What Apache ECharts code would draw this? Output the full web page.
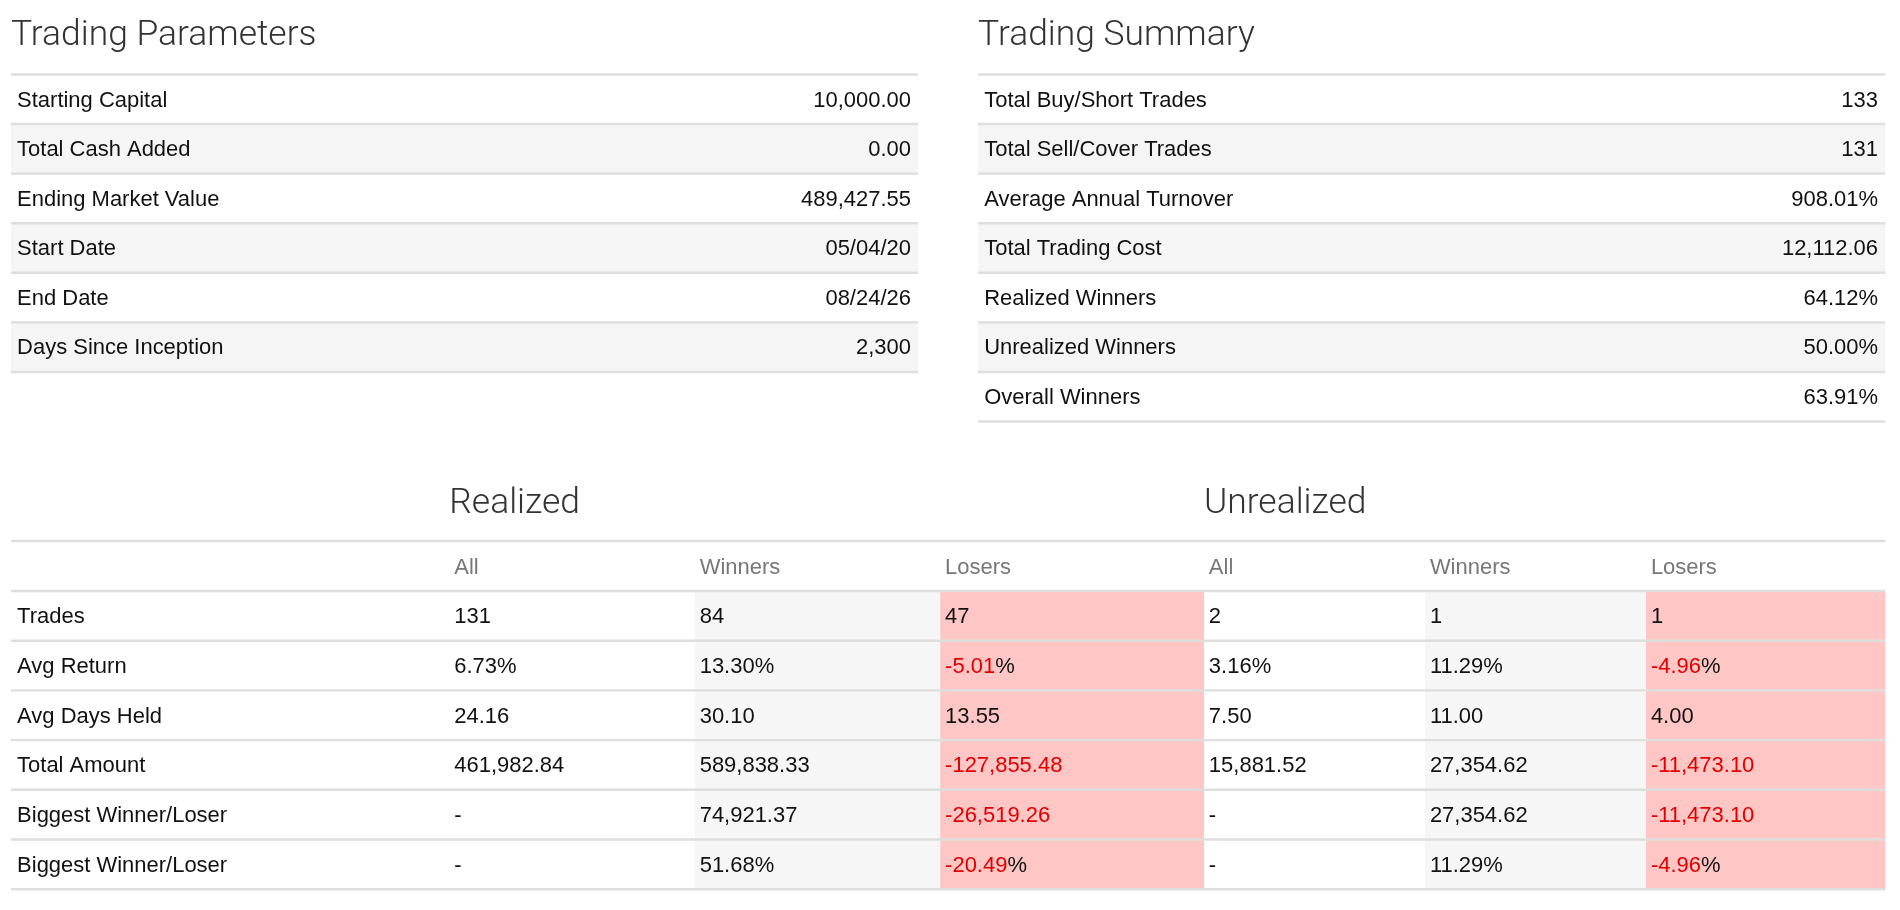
<!DOCTYPE html>
<html><head><meta charset="utf-8">
<script src="https://cdn.jsdelivr.net/npm/echarts@6/dist/echarts.min.js"></script>
<style>html,body{margin:0;padding:0;background:#fff}#c{width:1900px;height:910px}</style>
</head><body><div id="c"></div>
<script>
const paramLabels = ["Starting Capital","Total Cash Added","Ending Market Value","Start Date","End Date","Days Since Inception"];
const paramValues = ["10,000.00","0.00","489,427.55","05/04/20","08/24/26","2,300"];
const summaryLabels = ["Total Buy/Short Trades","Total Sell/Cover Trades","Average Annual Turnover","Total Trading Cost","Realized Winners","Unrealized Winners","Overall Winners"];
const summaryValues = ["133","131","908.01%","12,112.06","64.12%","50.00%","63.91%"];
const groupHeaders = ["Realized","Unrealized"];
const colHeaders = ["All","Winners","Losers","All","Winners","Losers"];
const rowLabels = ["Trades","Avg Return","Avg Days Held","Total Amount","Biggest Winner/Loser","Biggest Winner/Loser"];
const realizedAll = ["131","6.73%","24.16","461,982.84","-","-"];
const realizedWin = ["84","13.30%","30.10","589,838.33","74,921.37","51.68%"];
const realizedLose = ["47","-5.01%","13.55","-127,855.48","-26,519.26","-20.49%"];
const unrealAll = ["2","3.16%","7.50","15,881.52","-","-"];
const unrealWin = ["1","11.29%","11.00","27,354.62","27,354.62","11.29%"];
const unrealLose = ["1","-4.96%","4.00","-11,473.10","-11,473.10","-4.96%"];

const S = 1900/1556;
const FONT = '"Liberation Sans", Arial, sans-serif';
const els = [];
function rect(x,y,w,h,fill){els.push({type:'rect',shape:{x:x*S,y:y*S,width:w*S,height:h*S},style:{fill:fill},silent:true});}
function line(x1,x2,y){els.push({type:'rect',shape:{x:x1*S,y:(y-1)*S,width:(x2-x1)*S,height:2*S},style:{fill:'#dedede'},silent:true});}
function text(str,x,y,opt){opt=opt||{};
  let t=str, rich={r:{fill:'#e00000',fontSize:18*S,fontFamily:FONT},b:{fill:'#111',fontSize:18*S,fontFamily:FONT}};
  if(opt.neg && str.startsWith('-') && str.length>1){
    if(str.endsWith('%')) t='{r|'+str.slice(0,-1)+'}{b|%}'; else t='{r|'+str+'}';
  }
  els.push({type:'text',x:x*S,y:y*S,style:{text:t,rich:rich,fill:opt.color||'#111',fontSize:(opt.size||18)*S,fontFamily:opt.font||FONT,fontWeight:opt.weight||'normal',align:opt.align||'left',verticalAlign:'middle'},silent:true});
}
function kvTable(x1,x2,top,labels,values,title){
  text(title,x1,30,{size:29,font:'Roboto, sans-serif',weight:300,color:'#333'});
  const rh=40.6;
  labels.forEach((l,i)=>{
    const y=top+i*rh;
    if(i%2===1) rect(x1,y,x2-x1,rh,'#f5f5f5');
    line(x1,x2,y);
    text(l,x1+5,y+rh/2+1);
    text(values[i],x2-6,y+rh/2+1,{align:'right'});
  });
  line(x1,x2,top+labels.length*rh);
}
kvTable(9,752,61,paramLabels,paramValues,"Trading Parameters");
kvTable(801,1544,61,summaryLabels,summaryValues,"Trading Summary");

// bottom table
const colX=[368,569,770,986,1167,1348,1544];
const cols=[realizedAll,realizedWin,realizedLose,unrealAll,unrealWin,unrealLose];
const colFill=[null,'#f6f6f6','#ffc6c6',null,'#f6f6f6','#ffc6c6'];
const top2=484, rh2=40.7, n=rowLabels.length;
cols.forEach((c,j)=>{ if(colFill[j]) rect(colX[j],top2,colX[j+1]-colX[j],rh2*n,colFill[j]); });
text(groupHeaders[0],368,413,{size:29,font:'Roboto, sans-serif',weight:300,color:'#333'});
text(groupHeaders[1],986,413,{size:29,font:'Roboto, sans-serif',weight:300,color:'#333'});
line(9,1544,443);
colHeaders.forEach((h,j)=>text(h,colX[j]+4,465,{color:'#777'}));
for(let i=0;i<=n;i++) line(9,1544,top2+i*rh2);
rowLabels.forEach((l,i)=>{
  const y=top2+i*rh2+rh2/2+1;
  text(l,14,y);
  cols.forEach((c,j)=>text(c[i],colX[j]+4,y,{neg:true}));
});

const chart=echarts.init(document.getElementById('c'),null,{renderer:'canvas'});
chart.setOption({animation:false,backgroundColor:'#fff',graphic:{elements:els}});
</script></body></html>
